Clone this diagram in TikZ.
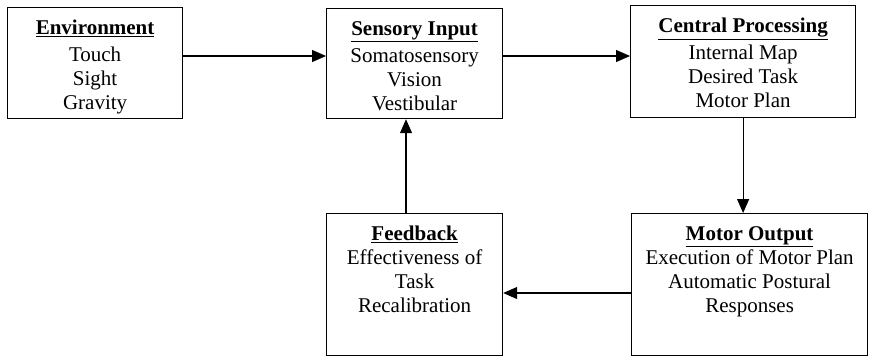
\documentclass[tikz,border=0pt]{standalone}
\usepackage{fontspec}
\setmainfont{Liberation Serif}
\newfontfamily\stagefont{Liberation Serif}
\usetikzlibrary{arrows.meta}
\newcommand{\boxtitle}[1]{\underline{\textbf{#1}}}
\tikzset{
  stage/.style={draw, line width=1.2pt, inner sep=0pt, anchor=north west},
  stagetext/.style={anchor=north, inner sep=0pt, align=center,
    font=\stagefont\fontsize{21}{24}\selectfont},
  flow/.style={line width=1.1pt, -{Triangle[length=14pt,width=12pt]}}
}
\begin{document}
\begin{tikzpicture}[x=1pt, y=-1pt]
  \useasboundingbox (0,0) rectangle (869,357);
  % boxes
  \node[stage, minimum width=175pt, minimum height=111pt] (env) at (7,7) {};
  \node[stage, minimum width=176pt, minimum height=110pt] (sens) at (326,8) {};
  \node[stage, minimum width=225pt, minimum height=112pt] (cent) at (630,5) {};
  \node[stage, minimum width=176pt, minimum height=142pt] (feed) at (326,213) {};
  \node[stage, minimum width=236pt, minimum height=142pt] (motor) at (631,213) {};
  % box contents
  \node[stagetext] (envtext) at ([yshift=-13pt]env.north)
    {\boxtitle{Environment}\\[3pt] Touch\\ Sight\\ Gravity};
  \node[stagetext] (senstext) at ([yshift=-13pt]sens.north)
    {\boxtitle{Sensory Input}\\[3pt] Somatosensory\\ Vision\\ Vestibular};
  \node[stagetext] (centtext) at ([yshift=-13pt]cent.north)
    {\boxtitle{Central Processing}\\[3pt] Internal Map\\ Desired Task\\ Motor Plan};
  \node[stagetext] (feedtext) at ([yshift=-13pt]feed.north)
    {\boxtitle{Feedback}\\ Effectiveness of\\ Task\\ Recalibration};
  \node[stagetext] (motortext) at ([yshift=-13pt]motor.north)
    {\boxtitle{Motor Output}\\ Execution of Motor Plan\\ Automatic Postural\\ Responses};
  % connectors
  \draw[flow] ([yshift=-49pt]env.north east) -- ([yshift=-48pt]sens.north west);
  \draw[flow] ([yshift=-48pt]sens.north east) -- ([yshift=-51pt]cent.north west);
  \draw[flow] (cent.south) -- (cent.south |- motor.north);
  \draw[flow] ([yshift=-80pt]motor.north west) -- ([yshift=-80pt]feed.north east);
  \draw[flow] ([xshift=80pt]feed.north west) -- ([xshift=80pt]sens.south west);
\end{tikzpicture}
\end{document}
